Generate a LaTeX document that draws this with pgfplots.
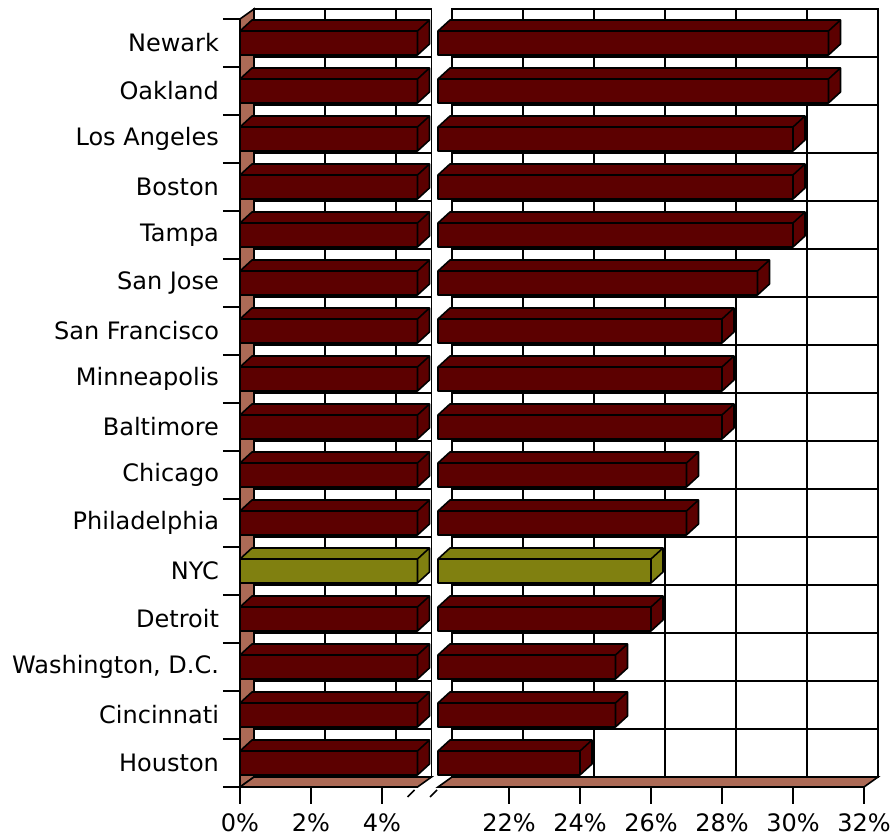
\documentclass[border=0pt]{standalone}
\usepackage{fontspec}
\setmainfont{DejaVu Sans}
\usepackage{pgfplots}
\pgfplotsset{compat=1.18}
\usepackage{pgfplotstable}
\definecolor{barred}{RGB}{92,0,0}
\definecolor{barolive}{RGB}{128,128,16}
\definecolor{floorc}{RGB}{172,106,86}

% y: 15 = Newark (top) ... 0 = Houston (bottom); v = share in %
\pgfplotstableread{
y v
15 31
14 31
13 30
12 30
11 30
10 29
9 28
8 28
7 28
6 27
5 27
3 26
2 25
1 25
0 24
}\cities
\pgfplotstableread{
y v
4 26
}\nyc

\pgfplotsset{
  panel/.style={x=17.75pt, y=24pt, ymin=-0.5, ymax=15.5, enlargelimits=false,
    clip=false, anchor=south west},
  backpanel/.style={panel, xticklabels={}, yticklabels={}, major tick length=0pt,
    ytick={-0.5,0.5,...,15.5}, grid=major,
    grid style={black, line width=0.8pt},
    axis line style={black, line width=0.8pt}},
  frontpanel/.style={panel, axis x line*=bottom,
    major tick length=0pt, minor tick length=8.5pt, tick align=outside,
    tick style={black, line width=0.9pt},
    axis line style={black, line width=0.9pt},
    tick label style={font=\fontsize{12}{14}\selectfont},
    xticklabel style={yshift=-10pt}},
  bar3d/.style={only marks, scatter, mark=*, mark size=0pt,
    scatter/@pre marker code/.code={%
      \filldraw[fill=#1, draw=black, line width=0.8pt, line join=round]
        (-\len pt,-6pt) rectangle (0pt,6pt)
        (-\len pt,6pt) -- (0pt,6pt) -- (6pt,11.5pt) -- ({6pt-\len pt},11.5pt) -- cycle
        (0pt,-6pt) -- (6pt,-0.5pt) -- (6pt,11.5pt) -- (0pt,6pt) -- cycle;
    },
    scatter/@post marker code/.code={}},
}

\begin{document}
\begin{tikzpicture}
\path[use as bounding box] (-120pt,-26.5pt) rectangle (328pt,393.5pt);

% back walls with grid
\begin{axis}[backpanel, at={(7pt,5pt)}, xmin=0, xmax=5, xtick={0,2,4}]
\addplot[draw=none] coordinates {(0,0)};
\end{axis}
\begin{axis}[backpanel, at={(106pt,5pt)}, xmin=20, xmax=32, xtick={20,22,...,32}]
\addplot[draw=none] coordinates {(20,0)};
\end{axis}

% left front panel
\begin{axis}[frontpanel, at={(0pt,0pt)}, xmin=0, xmax=5,
  axis y line*=left,
  xtick={0,2,4}, xticklabels={0\%,2\%,4\%}, minor xtick={0,2,4},
  ytick={0,...,15}, minor ytick={-0.5,0.5,...,15.5},
  yticklabel style={xshift=-7pt},
  yticklabels={Houston,Cincinnati,{Washington, D.C.},Detroit,NYC,Philadelphia,Chicago,Baltimore,Minneapolis,San Francisco,San Jose,Tampa,Boston,Los Angeles,Oakland,Newark}]
% left wall
\filldraw[fill=floorc, draw=black, line width=0.8pt]
  (axis cs:0,-0.5) -- (axis cs:0,15.5) -- ([shift={(7pt,5pt)}]axis cs:0,15.5)
  -- ([shift={(7pt,5pt)}]axis cs:0,-0.5) -- cycle;
% floor
\filldraw[fill=floorc, draw=black, line width=0.8pt]
  (axis cs:0,-0.5) -- (axis cs:5,-0.5) -- ([shift={(7pt,5pt)}]axis cs:5,-0.5)
  -- ([shift={(7pt,5pt)}]axis cs:0,-0.5) -- cycle;
\addplot[bar3d=barred, visualization depends on={min(\thisrow{v},5)*17.75 \as \len}]
  table[x expr={min(\thisrow{v},5)}, y=y] {\cities};
\addplot[bar3d=barolive, visualization depends on={min(\thisrow{v},5)*17.75 \as \len}]
  table[x expr={min(\thisrow{v},5)}, y=y] {\nyc};
\draw[line width=0.8pt] ([shift={(-5pt,-5pt)}]axis cs:5,-0.5) -- ++(3.5pt,3.5pt);
\end{axis}

% right front panel
\begin{axis}[frontpanel, at={(99pt,0pt)}, xmin=20, xmax=32,
  axis y line=none,
  xtick={22,24,...,32}, xticklabels={22\%,24\%,26\%,28\%,30\%,32\%},
  minor xtick={22,24,...,32}, ytick=\empty]
\filldraw[fill=floorc, draw=black, line width=0.8pt]
  (axis cs:20,-0.5) -- (axis cs:32,-0.5) -- ([shift={(7pt,5pt)}]axis cs:32,-0.5)
  -- ([shift={(7pt,5pt)}]axis cs:20,-0.5) -- cycle;
\addplot[bar3d=barred, visualization depends on={(\thisrow{v}-20)*17.75 \as \len}]
  table[x=v, y=y] {\cities};
\addplot[bar3d=barolive, visualization depends on={(\thisrow{v}-20)*17.75 \as \len}]
  table[x=v, y=y] {\nyc};
\draw[line width=0.8pt] ([shift={(-4pt,-5pt)}]axis cs:20,-0.5) -- ++(3.5pt,3.5pt);
\end{axis}
\end{tikzpicture}
\end{document}
